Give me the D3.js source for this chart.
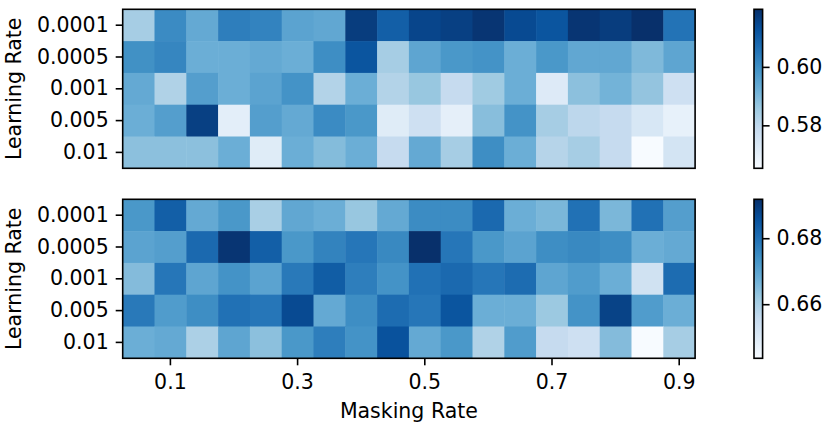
<!DOCTYPE html>
<html>
<head>
<meta charset="utf-8">
<script src="https://cdn.jsdelivr.net/npm/d3@7"></script>
<style>
  html, body { margin: 0; padding: 0; background: #fff; }
  svg { display: block; }
  text { font-family: "DejaVu Sans", sans-serif; fill: #000; }
</style>
</head>
<body>
<svg id="chart" width="831" height="423"></svg>
<script>
// ---------------- data ----------------
const learningRates = ["0.0001", "0.0005", "0.001", "0.005", "0.01"];
const maskingRates = [0.05, 0.1, 0.15, 0.2, 0.25, 0.3, 0.35, 0.4, 0.45, 0.5,
                      0.55, 0.6, 0.65, 0.7, 0.75, 0.8, 0.85, 0.9];
const xTickValues = [0.1, 0.3, 0.5, 0.7, 0.9];

const topValues = [
  [0.5843,0.6007,0.5936,0.6034,0.6023,0.5952,0.5941,0.6170,0.6099,0.6153,0.6164,0.6186,0.6143,0.6121,0.6186,0.6170,0.6197,0.6056],
  [0.5996,0.6017,0.5925,0.5925,0.5936,0.5925,0.6001,0.6121,0.5843,0.5947,0.5979,0.5990,0.5925,0.5979,0.5941,0.5941,0.5898,0.5947],
  [0.5936,0.5827,0.5963,0.5925,0.5952,0.5990,0.5822,0.5925,0.5822,0.5865,0.5789,0.5854,0.5925,0.5724,0.5881,0.5914,0.5871,0.5767],
  [0.5925,0.5963,0.6164,0.5707,0.5963,0.5936,0.6007,0.5979,0.5718,0.5767,0.5702,0.5887,0.5990,0.5843,0.5805,0.5789,0.5740,0.5697],
  [0.5881,0.5881,0.5881,0.5925,0.5718,0.5925,0.5892,0.5925,0.5789,0.5936,0.5843,0.6001,0.5925,0.5816,0.5843,0.5789,0.5653,0.5751]
];
const bottomValues = [
  [0.6725,0.6831,0.6687,0.6725,0.6600,0.6691,0.6677,0.6624,0.6687,0.6749,0.6749,0.6812,0.6677,0.6658,0.6798,0.6658,0.6798,0.6711],
  [0.6701,0.6711,0.6812,0.6908,0.6831,0.6725,0.6764,0.6788,0.6754,0.6918,0.6788,0.6725,0.6701,0.6744,0.6754,0.6744,0.6677,0.6687],
  [0.6648,0.6788,0.6696,0.6735,0.6701,0.6783,0.6836,0.6773,0.6735,0.6798,0.6812,0.6788,0.6807,0.6696,0.6716,0.6677,0.6532,0.6807],
  [0.6783,0.6716,0.6744,0.6798,0.6788,0.6870,0.6687,0.6744,0.6807,0.6788,0.6851,0.6677,0.6677,0.6619,0.6735,0.6884,0.6716,0.6677],
  [0.6677,0.6687,0.6595,0.6696,0.6638,0.6725,0.6773,0.6735,0.6855,0.6687,0.6725,0.6590,0.6716,0.6557,0.6537,0.6648,0.6436,0.6605]
];
const topCbTicks = [0.58, 0.60];
const bottomCbTicks = [0.66, 0.68];

// matplotlib "Blues" anchor colours
const bluesStops = ["#f7fbff","#deebf7","#c6dbef","#9ecae1","#6baed6","#4292c6","#2171b5","#08519c","#08306b"];

// ---------------- layout ----------------
const FONT = 20.5;
const LW = 1.6;
const TICK = 7;
const plotX0 = 122.7, plotX1 = 695.1;
const cbX0 = 754, cbW = 8.6;
const panels = [
  { values: topValues, y0: 9.3, y1: 168.3, cbTicks: topCbTicks, showX: false },
  { values: bottomValues, y0: 199.3, y1: 358.3, cbTicks: bottomCbTicks, showX: true }
];

const svg = d3.select("#chart");
const defs = svg.append("defs");

const x = d3.scaleBand().domain(maskingRates).range([plotX0, plotX1]).padding(0);

panels.forEach((p, pi) => {
  const y = d3.scaleBand().domain(learningRates).range([p.y0, p.y1]).padding(0);
  const flat = p.values.flat();
  const ext = d3.extent(flat);
  const t = d3.scaleLinear().domain(ext).range([0, 1]);
  const cmap = d3.scaleLinear()
    .domain(bluesStops.map((_, i) => i / (bluesStops.length - 1)))
    .range(bluesStops)
    .interpolate(d3.interpolateRgb)
    .clamp(true);
  const color = v => cmap(t(v));

  const g = svg.append("g");

  // cells
  const cells = [];
  p.values.forEach((row, ri) => row.forEach((v, ci) => cells.push({ lr: learningRates[ri], m: maskingRates[ci], v })));
  g.append("g").selectAll("rect").data(cells).join("rect")
    .attr("x", d => x(d.m))
    .attr("y", d => y(d.lr))
    .attr("width", x.bandwidth() + 0.5)
    .attr("height", y.bandwidth() + 0.5)
    .attr("fill", d => color(d.v));

  // frame
  g.append("rect")
    .attr("x", plotX0).attr("y", p.y0)
    .attr("width", plotX1 - plotX0).attr("height", p.y1 - p.y0)
    .attr("fill", "none").attr("stroke", "#000").attr("stroke-width", LW);

  // y axis
  const yAxis = g.append("g").attr("transform", `translate(${plotX0},0)`)
    .call(d3.axisLeft(y).tickSize(TICK).tickPadding(7));
  yAxis.select(".domain").remove();
  yAxis.selectAll("line").attr("stroke", "#000").attr("stroke-width", LW);
  yAxis.selectAll("text").attr("font-size", FONT).attr("font-family", "DejaVu Sans").attr("fill", "#000");

  // y label
  svg.append("text")
    .attr("transform", `translate(20.5,${(p.y0 + p.y1) / 2}) rotate(-90)`)
    .attr("text-anchor", "middle")
    .attr("font-size", FONT)
    .text("Learning Rate");

  // x axis
  if (p.showX) {
    const xAxis = g.append("g").attr("transform", `translate(0,${p.y1})`)
      .call(d3.axisBottom(x).tickValues(xTickValues).tickFormat(d3.format(".1f")).tickSize(TICK).tickPadding(9));
    xAxis.select(".domain").remove();
    xAxis.selectAll("line").attr("stroke", "#000").attr("stroke-width", LW);
    xAxis.selectAll("text").attr("font-size", FONT).attr("font-family", "DejaVu Sans").attr("fill", "#000");
    svg.append("text")
      .attr("x", (plotX0 + plotX1) / 2).attr("y", 418)
      .attr("text-anchor", "middle")
      .attr("font-size", FONT)
      .text("Masking Rate");
  }

  // colorbar
  const gradId = "grad" + pi;
  const grad = defs.append("linearGradient").attr("id", gradId)
    .attr("x1", 0).attr("y1", 1).attr("x2", 0).attr("y2", 0);
  grad.selectAll("stop").data(bluesStops).join("stop")
    .attr("offset", (d, i) => i / (bluesStops.length - 1))
    .attr("stop-color", d => d);

  const cbScale = d3.scaleLinear().domain(ext).range([p.y1, p.y0]);
  g.append("rect")
    .attr("x", cbX0).attr("y", p.y0)
    .attr("width", cbW).attr("height", p.y1 - p.y0)
    .attr("fill", `url(#${gradId})`)
    .attr("stroke", "#000").attr("stroke-width", LW);
  const cbAxis = g.append("g").attr("transform", `translate(${cbX0 + cbW},0)`)
    .call(d3.axisRight(cbScale).tickValues(p.cbTicks).tickFormat(d3.format(".2f")).tickSize(TICK).tickPadding(7));
  cbAxis.select(".domain").remove();
  cbAxis.selectAll("line").attr("stroke", "#000").attr("stroke-width", LW);
  cbAxis.selectAll("text").attr("font-size", FONT).attr("font-family", "DejaVu Sans").attr("fill", "#000");
});
</script>
</body>
</html>
